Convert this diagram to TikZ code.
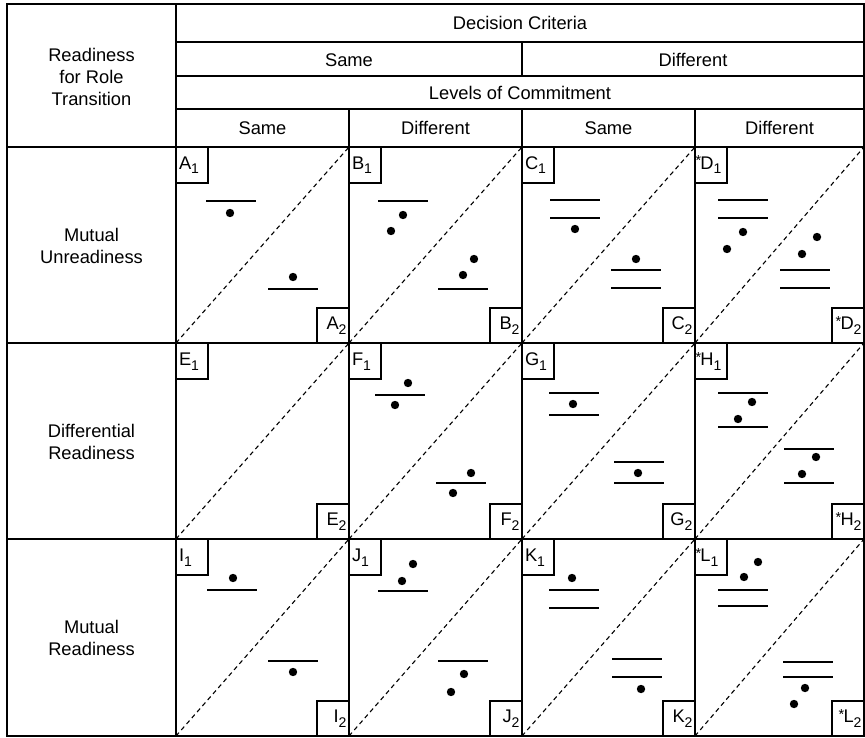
\documentclass[tikz,border=0pt]{standalone}
\usepackage{fontspec}
\setmainfont{Liberation Sans}
% corner tags: letter with a lowered index, optionally led by a small star
\newcommand{\cornertag}[2]{#1\raisebox{-4.5pt}{\fontsize{14}{14}\selectfont #2}}
\newcommand{\starcornertag}[2]{\hspace*{-2.5pt}\raisebox{3.5pt}{\fontsize{14.5}{14.5}\selectfont *}\hspace*{-0.8pt}\cornertag{#1}{#2}}
\begin{document}
\begin{tikzpicture}[x=1pt,y=-1pt,
  every node/.style={font=\fontsize{18.3}{22}\selectfont},
  grid/.style={line width=1.3pt, line cap=rect},
  rung/.style={line width=1.3pt},
  pip/.style={fill=black},
  diag/.style={line width=1.1pt, dash pattern=on 4.5pt off 3.5pt},
  cell/.style={draw=none, inner sep=0pt, outer sep=0pt, anchor=north west},
  tagtl/.style={draw, line width=1.2pt, anchor=north west, outer sep=0pt,
    minimum width=32pt, minimum height=36pt, text width=26pt, align=left,
    inner sep=3pt, text height=14.5pt, text depth=5.5pt},
  tagbr/.style={draw, line width=1.2pt, anchor=south east, outer sep=0pt,
    minimum width=32pt, minimum height=35pt, text width=27pt, align=right,
    inner xsep=2.5pt, inner ysep=3pt, text height=14pt, text depth=5.5pt},
  head/.style={anchor=base},
  side/.style={align=center, anchor=center}
]
\useasboundingbox (0,0) rectangle (865,738);

% ---- the twelve cells of the body ----
\foreach \n/\x/\y/\w/\h in {
  A/176/147/173/196, B/349/147/173/196, C/522/147/173/196, D/695/147/169/196,
  E/176/343/173/196, F/349/343/173/196, G/522/343/173/196, H/695/343/169/196,
  I/176/539/173/197, J/349/539/173/197, K/522/539/173/197, L/695/539/169/197}
  \node[cell, minimum width=\w pt, minimum height=\h pt] (\n) at (\x,\y) {};

% dashed diagonals
\foreach \n in {A,B,C,D,E,F,G,H,I,J,K,L}
  \draw[diag] (\n.south west) -- (\n.north east);

% ---- table rules ----
\draw[grid] (7,4) rectangle (864,736);
\draw[grid] (176,4) -- (176,736);
\draw[grid] (176,42) -- (864,42);
\draw[grid] (176,76) -- (864,76);
\draw[grid] (176,109) -- (864,109);
\draw[grid] (7,147) -- (864,147);
\draw[grid] (7,343) -- (864,343);
\draw[grid] (7,539) -- (864,539);
\draw[grid] (522,42) -- (522,76);
\draw[grid] (349,109) -- (349,736);
\draw[grid] (522,109) -- (522,736);
\draw[grid] (695,109) -- (695,736);

% ---- headings ----
\node[head] (crit) at (520,29.3) {Decision Criteria};
\node[head] (critsame) at (349,66.7) {Same};
\node[head] (critdiff) at (693,66.7) {Different};
\node[head] (commit) at (520,100) {Levels of Commitment};
\node[head] (c1) at (262.5,135) {Same};
\node[head] (c2) at (435.5,135) {Different};
\node[head] (c3) at (608.5,135) {Same};
\node[head] (c4) at (779.5,135) {Different};

\node[side] (readiness) at (91.5,77.4) {Readiness\\for Role\\Transition};
\node[side] (r1) at (91.5,246.2) {Mutual\\Unreadiness};
\node[side] (r2) at (91.5,442.2) {Differential\\Readiness};
\node[side] (r3) at (91.5,638.2) {Mutual\\Readiness};

% ---- corner tags ----
\node[tagtl] (A1) at (A.north west) {\cornertag{A}{1}};
\node[tagbr] (A2) at (A.south east) {\cornertag{A}{2}};
\node[tagtl] (B1) at (B.north west) {\cornertag{B}{1}};
\node[tagbr] (B2) at (B.south east) {\cornertag{B}{2}};
\node[tagtl] (C1) at (C.north west) {\cornertag{C}{1}};
\node[tagbr] (C2) at (C.south east) {\cornertag{C}{2}};
\node[tagtl] (D1) at (D.north west) {\starcornertag{D}{1}};
\node[tagbr] (D2) at (D.south east) {\starcornertag{D}{2}};
\node[tagtl] (E1) at (E.north west) {\cornertag{E}{1}};
\node[tagbr] (E2) at (E.south east) {\cornertag{E}{2}};
\node[tagtl] (F1) at (F.north west) {\cornertag{F}{1}};
\node[tagbr] (F2) at (F.south east) {\cornertag{F}{2}};
\node[tagtl] (G1) at (G.north west) {\cornertag{G}{1}};
\node[tagbr] (G2) at (G.south east) {\cornertag{G}{2}};
\node[tagtl] (H1) at (H.north west) {\starcornertag{H}{1}};
\node[tagbr] (H2) at (H.south east) {\starcornertag{H}{2}};
\node[tagtl] (I1) at (I.north west) {\cornertag{I}{1}};
\node[tagbr] (I2) at (I.south east) {\cornertag{I}{2}};
\node[tagtl] (J1) at (J.north west) {\cornertag{J}{1}};
\node[tagbr] (J2) at (J.south east) {\cornertag{J}{2}};
\node[tagtl] (K1) at (K.north west) {\cornertag{K}{1}};
\node[tagbr] (K2) at (K.south east) {\cornertag{K}{2}};
\node[tagtl] (L1) at (L.north west) {\starcornertag{L}{1}};
\node[tagbr] (L2) at (L.south east) {\starcornertag{L}{2}};

% ---- levels (rules) and positions (dots) in each cell ----
\def\pr{4.2pt}
% A
\draw[rung] (206,201) -- ++(50,0);
\draw[rung] (268,289) -- ++(50,0);
\fill[pip] (230,213) circle[radius=\pr] (293,277) circle[radius=\pr];
% B
\draw[rung] (378,201) -- ++(50,0);
\draw[rung] (438,289) -- ++(50,0);
\fill[pip] (403,215) circle[radius=\pr] (391,231) circle[radius=\pr]
           (474,259) circle[radius=\pr] (463,275) circle[radius=\pr];
% C
\draw[rung] (550,200) -- ++(50,0);
\draw[rung] (550,218) -- ++(50,0);
\draw[rung] (611,270) -- ++(50,0);
\draw[rung] (611,288) -- ++(50,0);
\fill[pip] (575,229) circle[radius=\pr] (636,259) circle[radius=\pr];
% D
\draw[rung] (718,200) -- ++(50,0);
\draw[rung] (718,218) -- ++(50,0);
\draw[rung] (780,270) -- ++(50,0);
\draw[rung] (780,288) -- ++(50,0);
\fill[pip] (743,232) circle[radius=\pr] (727,249) circle[radius=\pr]
           (817,237) circle[radius=\pr] (802,254) circle[radius=\pr];
% F
\draw[rung] (375,395) -- ++(50,0);
\draw[rung] (436,483) -- ++(50,0);
\fill[pip] (408,383) circle[radius=\pr] (395,405) circle[radius=\pr]
           (471,473) circle[radius=\pr] (453,493) circle[radius=\pr];
% G
\draw[rung] (549,393) -- ++(50,0);
\draw[rung] (549,415) -- ++(50,0);
\draw[rung] (614,462) -- ++(50,0);
\draw[rung] (614,483) -- ++(50,0);
\fill[pip] (573,404) circle[radius=\pr] (638,473) circle[radius=\pr];
% H
\draw[rung] (718,393) -- ++(50,0);
\draw[rung] (718,427) -- ++(50,0);
\draw[rung] (784,449) -- ++(50,0);
\draw[rung] (784,483) -- ++(50,0);
\fill[pip] (752,402) circle[radius=\pr] (738,419) circle[radius=\pr]
           (816,457) circle[radius=\pr] (802,474) circle[radius=\pr];
% I
\draw[rung] (207,590) -- ++(50,0);
\draw[rung] (268,661) -- ++(50,0);
\fill[pip] (233,578) circle[radius=\pr] (293,672) circle[radius=\pr];
% J
\draw[rung] (378,591) -- ++(50,0);
\draw[rung] (438,661) -- ++(50,0);
\fill[pip] (413,564) circle[radius=\pr] (402,581) circle[radius=\pr]
           (464,674) circle[radius=\pr] (451,692) circle[radius=\pr];
% K
\draw[rung] (549,590) -- ++(50,0);
\draw[rung] (549,608) -- ++(50,0);
\draw[rung] (612,659) -- ++(50,0);
\draw[rung] (612,677) -- ++(50,0);
\fill[pip] (572,578) circle[radius=\pr] (641,689) circle[radius=\pr];
% L
\draw[rung] (718,590) -- ++(50,0);
\draw[rung] (718,606) -- ++(50,0);
\draw[rung] (783,662) -- ++(50,0);
\draw[rung] (783,677) -- ++(50,0);
\fill[pip] (758,562) circle[radius=\pr] (744,577) circle[radius=\pr]
           (805,688) circle[radius=\pr] (794,704) circle[radius=\pr];
\end{tikzpicture}
\end{document}
